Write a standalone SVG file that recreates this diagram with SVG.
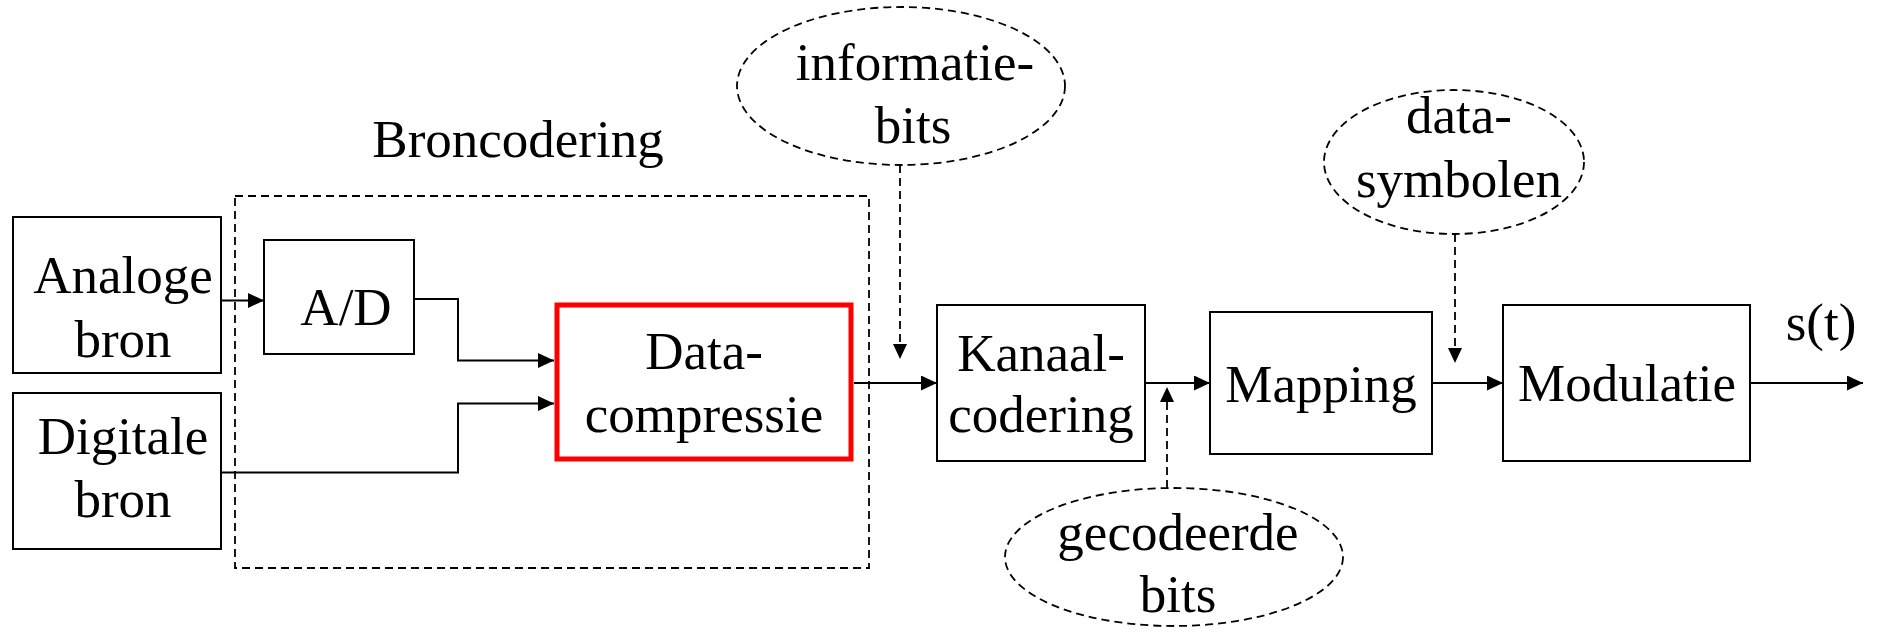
<svg xmlns="http://www.w3.org/2000/svg" width="1877" height="632" viewBox="0 0 1877 632">
  <style>
    text { font-family: "Liberation Serif", "Times New Roman", serif; font-size: 53px; fill: #000; text-anchor: middle; }
    .box { fill: #fff; stroke: #000; stroke-width: 2; }
    .hot { fill: #fff; stroke: #ff0000; stroke-width: 5; }
    .group { fill: none; stroke: #000; stroke-width: 1.8; stroke-dasharray: 8 5; }
    .bubble { fill: none; stroke: #000; stroke-width: 1.8; stroke-dasharray: 8 5; }
    .wire { fill: none; stroke: #000; stroke-width: 2; marker-end: url(#arrow); }
    .dash { fill: none; stroke: #000; stroke-width: 1.8; stroke-dasharray: 8 5; marker-end: url(#arrow-s); }
  </style>
  <defs>
    <marker id="arrow" markerUnits="userSpaceOnUse" markerWidth="16" markerHeight="15" refX="16" refY="7.5" orient="auto">
      <path d="M0,0 L16,7.5 L0,15 z" fill="#000"/>
    </marker>
    <marker id="arrow-s" markerUnits="userSpaceOnUse" markerWidth="15" markerHeight="14" refX="15" refY="7" orient="auto">
      <path d="M0,0 L15,7 L0,14 z" fill="#000"/>
    </marker>
  </defs>

  <rect width="1877" height="632" fill="#fff"/>

  <!-- source coding group -->
  <g id="broncodering">
    <rect class="group" x="235" y="196" width="634" height="372"/>
    <text x="518" y="157">Broncodering</text>
  </g>

  <g id="analoge-bron">
    <rect class="box" x="13" y="217" width="208" height="156"/>
    <text x="123" y="293">Analoge</text>
    <text x="123" y="357">bron</text>
  </g>

  <g id="digitale-bron">
    <rect class="box" x="13" y="393" width="208" height="156"/>
    <text x="123" y="454">Digitale</text>
    <text x="123" y="517">bron</text>
  </g>

  <g id="ad">
    <rect class="box" x="264" y="240" width="150" height="114"/>
    <text x="346" y="325">A/D</text>
  </g>

  <g id="datacompressie">
    <rect class="hot" x="557" y="305" width="294" height="154"/>
    <text x="704" y="369">Data-</text>
    <text x="704" y="432">compressie</text>
  </g>

  <g id="kanaalcodering">
    <rect class="box" x="937" y="305" width="208" height="156"/>
    <text x="1041" y="371">Kanaal-</text>
    <text x="1041" y="432">codering</text>
  </g>

  <g id="mapping">
    <rect class="box" x="1210" y="312" width="222" height="142"/>
    <text x="1321" y="402">Mapping</text>
  </g>

  <g id="modulatie">
    <rect class="box" x="1503" y="305" width="247" height="156"/>
    <text x="1627" y="401">Modulatie</text>
  </g>

  <g id="informatiebits">
    <ellipse class="bubble" cx="901" cy="86" rx="164" ry="79"/>
    <text x="915" y="80">informatie-</text>
    <text x="913" y="143">bits</text>
  </g>

  <g id="datasymbolen">
    <ellipse class="bubble" cx="1454" cy="162" rx="130" ry="72"/>
    <text x="1459" y="133">data-</text>
    <text x="1459" y="197">symbolen</text>
  </g>

  <g id="gecodeerde-bits">
    <ellipse class="bubble" cx="1174" cy="557" rx="169" ry="69"/>
    <text x="1178" y="550">gecodeerde</text>
    <text x="1178" y="612">bits</text>
  </g>

  <g id="output-label">
    <text x="1821" y="340">s(t)</text>
  </g>

  <!-- signal flow and annotation pointers -->
  <g id="connectors">
    <path class="wire" d="M221,300.5 H264"/>
    <path class="wire" d="M414,299 H458 V360.5 H554"/>
    <path class="wire" d="M221,472.5 H458 V403.5 H554"/>
    <path class="wire" d="M854,383 H937"/>
    <path class="wire" d="M1145,383 H1210"/>
    <path class="wire" d="M1432,383 H1503"/>
    <path class="wire" d="M1750,383 H1863"/>
    <path class="dash" d="M900,165 V359"/>
    <path class="dash" d="M1455,234 V363"/>
    <path class="dash" d="M1167,488 V387"/>
  </g>
</svg>
